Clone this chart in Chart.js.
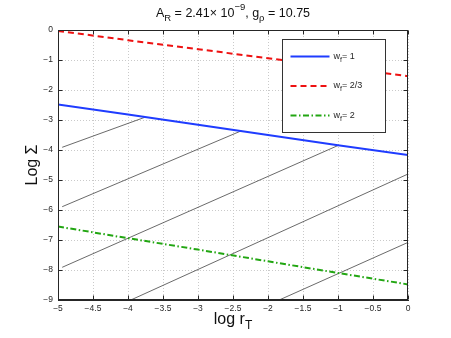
<!DOCTYPE html>
<html>
<head>
<meta charset="utf-8">
<script src="https://cdn.jsdelivr.net/npm/chart.js@4.4.0/dist/chart.umd.min.js"></script>
<style>
  html, body { margin: 0; padding: 0; background: #fff; }
  #wrap { width: 451px; height: 338px; }
</style>
</head>
<body>
<div id="wrap"><canvas id="sigmaChart" width="451" height="338"></canvas></div>
<script>
// ===== values =====
const logR = [-5, -4, -3, -2, -1, 0];
const sigmaW1 = [-2.48, -2.82, -3.16, -3.50, -3.84, -4.17];
const sigmaW23 = [-0.03, -0.34, -0.64, -0.94, -1.24, -1.54];
const sigmaW2 = [-6.55, -6.94, -7.32, -7.71, -8.10, -8.48];

// thin black tracks, start / end points
const trackX = [[-4.94, -3.76], [-4.94, -2.38], [-4.94, -0.99], [-3.96, 0], [-1.84, 0]];
const trackY = [[-3.91, -2.91], [-5.89, -3.36], [-7.91, -3.84], [-9, -4.80], [-9, -7.08]];

const xTicks = [-5, -4.5, -4, -3.5, -3, -2.5, -2, -1.5, -1, -0.5, 0];
const yTicks = [0, -1, -2, -3, -4, -5, -6, -7, -8, -9];
const wfLabels = ['1', '2/3', '2'];

const FONT = '"Liberation Sans", Arial, Helvetica, sans-serif';
const INK = '#262626';

function toPoints(xs, ys) {
  return xs.map((x, i) => ({ x, y: ys[i] }));
}

function fmtTick(v) {
  return String(v).replace('-', '\u2212');
}

// draw a run of text pieces (for sub / superscripts)
function drawRich(ctx, parts, x, y, align) {
  const sized = parts.map(p => {
    ctx.font = p.size + 'px ' + FONT;
    return { ...p, w: ctx.measureText(p.t).width };
  });
  const total = sized.reduce((t, p) => t + p.w, 0);
  let cx = align === 'center' ? x - total / 2 : x;
  ctx.textAlign = 'left';
  ctx.textBaseline = 'alphabetic';
  sized.forEach(p => {
    ctx.font = p.size + 'px ' + FONT;
    ctx.fillText(p.t, cx, y + (p.dy || 0));
    cx += p.w;
  });
}

const framePlugin = {
  id: 'frame',
  afterDraw(chart) {
    const { ctx, chartArea: a } = chart;
    const xs = chart.scales.x, ys = chart.scales.y;
    const L = Math.round(a.left) + 0.5, R = Math.round(a.right) - 0.5;
    const T = Math.round(a.top) + 0.5, B = Math.round(a.bottom) - 0.5;

    ctx.save();
    ctx.strokeStyle = INK;
    ctx.lineWidth = 1;
    ctx.setLineDash([]);
    ctx.strokeRect(L, T, R - L, B - T);

    // inward ticks on all four sides
    ctx.beginPath();
    xs.ticks.forEach(t => {
      const px = Math.round(xs.getPixelForValue(t.value)) + 0.5;
      ctx.moveTo(px, B); ctx.lineTo(px, B - 4);
      ctx.moveTo(px, T); ctx.lineTo(px, T + 4);
    });
    ys.ticks.forEach(t => {
      const py = Math.round(ys.getPixelForValue(t.value)) + 0.5;
      ctx.moveTo(L, py); ctx.lineTo(L + 4, py);
      ctx.moveTo(R, py); ctx.lineTo(R - 4, py);
    });
    ctx.stroke();

    // legend box
    const bx = Math.round(a.right) - 125.5, by = Math.round(a.top) + 9.5;
    ctx.fillStyle = '#fff';
    ctx.fillRect(bx, by, 103, 93);
    ctx.strokeStyle = '#333';
    ctx.strokeRect(bx, by, 103, 93);

    const main = chart.data.datasets.filter(d => d.wf);
    main.forEach((d, i) => {
      const ly = by + 17 + i * 29.5;
      ctx.beginPath();
      ctx.strokeStyle = d.borderColor;
      ctx.lineWidth = d.borderWidth;
      ctx.setLineDash(d.borderDash || []);
      ctx.moveTo(bx + 8, ly);
      ctx.lineTo(bx + 47, ly);
      ctx.stroke();
      ctx.setLineDash([]);
      ctx.fillStyle = INK;
      drawRich(ctx, [
        { t: 'w', size: 9 },
        { t: 'f', size: 7, dy: 3 },
        { t: '= ' + d.wf, size: 9 }
      ], bx + 51, ly + 2, 'left');
    });

    // title
    ctx.fillStyle = '#111';
    drawRich(ctx, [
      { t: 'A', size: 12.5 },
      { t: 'R', size: 9.5, dy: 4 },
      { t: ' = 2.41\u00d7 10', size: 12.5 },
      { t: '\u22129', size: 9.5, dy: -7 },
      { t: ', g', size: 12.5 },
      { t: '\u03c1', size: 9.5, dy: 4 },
      { t: ' = 10.75', size: 12.5 }
    ], (a.left + a.right) / 2, 17, 'center');

    // x axis title
    drawRich(ctx, [
      { t: 'log r', size: 16 },
      { t: 'T', size: 12, dy: 5 }
    ], (a.left + a.right) / 2, 324, 'center');

    // y axis title
    ctx.save();
    ctx.translate(37, (a.top + a.bottom) / 2);
    ctx.rotate(-Math.PI / 2);
    ctx.font = '16px ' + FONT;
    ctx.textAlign = 'center';
    ctx.textBaseline = 'alphabetic';
    ctx.fillText('Log \u03a3', 0, 0);
    ctx.restore();

    ctx.restore();
  }
};

const mainLine = (label, wf, ys, color, width, dash) => ({
  label, wf,
  data: toPoints(logR, ys),
  borderColor: color,
  borderWidth: width,
  borderDash: dash,
  pointRadius: 0,
  showLine: true,
  fill: false
});

const datasets = [
  mainLine('wf = 1', wfLabels[0], sigmaW1, '#1f3cff', 2, []),
  mainLine('wf = 2/3', wfLabels[1], sigmaW23, '#ee1111', 2, [6, 4]),
  mainLine('wf = 2', wfLabels[2], sigmaW2, '#22a612', 2, [6, 2.5, 1.5, 2.5])
].concat(trackX.map((xs, i) => ({
  label: 'track ' + (i + 1),
  data: toPoints(xs, trackY[i]),
  borderColor: '#444',
  borderWidth: 0.8,
  pointRadius: 0,
  showLine: true,
  fill: false
})));

new Chart(document.getElementById('sigmaChart').getContext('2d'), {
  type: 'scatter',
  data: { datasets },
  options: {
    responsive: false,
    animation: false,
    events: [],
    layout: { padding: { top: 30, right: 43, left: 0, bottom: 0 } },
    plugins: { legend: { display: false }, tooltip: { enabled: false }, title: { display: false } },
    scales: {
      x: {
        type: 'linear', min: -5, max: 0,
        afterBuildTicks: s => { s.ticks = xTicks.map(v => ({ value: v })); },
        afterFit: s => { s.height = 38; },
        ticks: { color: INK, font: { family: FONT, size: 8.5 }, padding: 4, maxRotation: 0, autoSkip: false, callback: fmtTick },
        grid: { color: '#cacaca', lineWidth: 1, drawTicks: false },
        border: { display: true, color: INK, width: 1, dash: [1, 2] }
      },
      y: {
        type: 'linear', min: -9, max: 0,
        afterBuildTicks: s => { s.ticks = yTicks.map(v => ({ value: v })); },
        afterFit: s => { s.width = 58; },
        ticks: { color: INK, font: { family: FONT, size: 8.5 }, padding: 5, autoSkip: false, callback: fmtTick },
        grid: { color: '#cacaca', lineWidth: 1, drawTicks: false },
        border: { display: true, color: INK, width: 1, dash: [1, 2] }
      }
    }
  },
  plugins: [framePlugin]
});
</script>
</body>
</html>
